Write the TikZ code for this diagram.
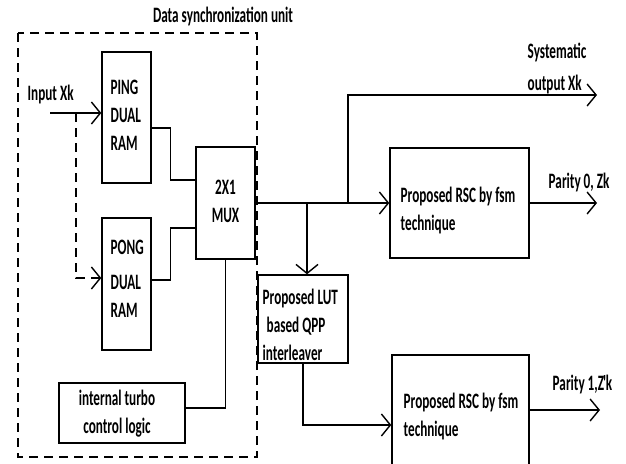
\documentclass[tikz,border=0pt]{standalone}
\usepackage{fontspec}
\setmainfont{Carlito}[FakeStretch=0.6]
\usetikzlibrary{arrows.meta}
\begin{document}
\begin{tikzpicture}[x=1pt,y=-1pt,
  line width=1.4pt,
  box/.style={draw, line width=1.4pt, inner sep=0pt},
  lbl/.style={font=\fontsize{22}{28}\selectfont\bfseries, inner sep=0pt, align=left},
  lblc/.style={lbl, align=center},
  arr/.style={-{Straight Barb[length=9pt,width=22pt]}},
  dsh/.style={dash pattern=on 9pt off 6pt}
]
\useasboundingbox (0,0) rectangle (626,463);
\clip (0,0) rectangle (626,463);
\fill[white] (0,0) rectangle (626,463);

% dashed unit outline
\draw[dsh] (18,33) rectangle (257,457);
\node[lblc] (title) at (223,16) {Data synchronization unit};

% boxes
\node[box, minimum width=49pt, minimum height=131pt] (ping) at (126.5,117.5) {};
\node[box, minimum width=49pt, minimum height=132pt] (pong) at (126.5,284) {};
\node[box, minimum width=59pt, minimum height=112pt] (mux) at (225.5,203) {};
\node[box, minimum width=126pt, minimum height=60pt] (ctrl) at (122,413) {};
\node[box, minimum width=139pt, minimum height=110pt] (rsc0) at (459.5,203) {};
\node[box, minimum width=90pt, minimum height=88pt] (lut) at (303,319) {};
\node[box, minimum width=137pt, minimum height=140pt] (rsc1) at (460.5,425) {};

% box texts
\node[lbl, anchor=west] (pingt) at (110,115) {PING\\DUAL\\RAM};
\node[lbl, anchor=west] (pongt) at (110,279) {PONG\\[7pt]DUAL\\RAM};
\node[lblc] (muxt) at (225.5,201) {2X1\\MUX};
\node[lblc] (ctrlt) at (117,414) {internal turbo\\control logic};
\node[lbl, anchor=west] (rsc0t) at (400,211) {Proposed RSC by fsm\\technique};
\node[lbl, anchor=west] (lutt) at (262,325) {Proposed LUT\\\hspace{4pt}based QPP\\interleaver};
\node[lbl, anchor=west] (rsc1t) at (403,417) {Proposed RSC by fsm\\technique};

% outer labels
\node[lbl, anchor=west] (inlbl) at (27,95) {Input Xk};
\node[lbl, anchor=west] (syslbl) at (527,68) {Systematic\\[4pt]output Xk};
\node[lbl, anchor=west] (p0lbl) at (548,183) {Parity 0, Zk};
\node[lbl, anchor=west] (p1lbl) at (552,385) {Parity 1,Z\kern-1pt\textquotesingle\kern-2.5pt k};

% coordinates
\coordinate (inp) at (50,113);
\coordinate (dsplit) at (76,113);
\coordinate (b1) at (307,203);
\coordinate (b2) at (348,203);
\coordinate (sysend) at (597,95);
\coordinate (p0end) at (597,203);
\coordinate (p1end) at (600,410);

% connectors
\draw[arr] (inp) -- (inp -| ping.west);
\draw[dsh, arr] (dsplit) |- ([yshift=6pt]pong.west);
\draw ([yshift=-10.5pt]ping.east) -- ++(19,0) |- ([yshift=23pt]mux.west);
\draw ([yshift=4pt]pong.east) -- ++(19,0) |- ([yshift=-25pt]mux.west);
\draw ([yshift=5pt]ctrl.east) -| (mux.south);
\draw[arr] (mux.east) -- (rsc0.west);
\draw[arr] (b2) |- (sysend);
\draw[arr] (b1) -- (b1 |- lut.north);
\draw[arr] (lut.south) |- (rsc1.west);
\draw[arr] (rsc0.east) -- (p0end);
\draw[arr] ([yshift=15pt]rsc1.east) -- (p1end);
\end{tikzpicture}
\end{document}
